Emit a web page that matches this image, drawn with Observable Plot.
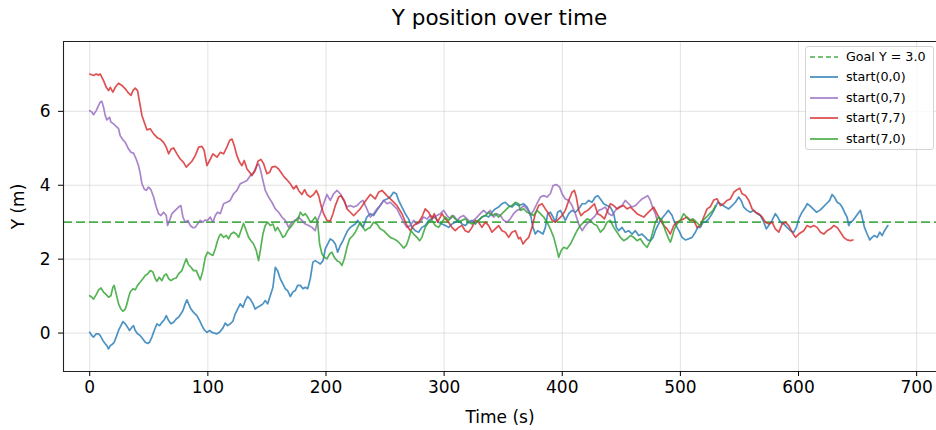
<!DOCTYPE html>
<html><head><meta charset="utf-8">
<script src="https://cdn.jsdelivr.net/npm/d3@7"></script>
<script src="https://cdn.jsdelivr.net/npm/@observablehq/plot@0.6"></script>
<style>
html,body{margin:0;padding:0;background:#fff;}
body{font-family:"DejaVu Sans",sans-serif;color:#000;}
#wrap{position:relative;width:936px;height:430px;overflow:hidden;}
#title{position:absolute;left:63px;width:873px;top:0;height:36px;text-align:center;font-size:21.5px;line-height:36px;}
#chart{position:absolute;left:0;top:36px;}
#legend{position:absolute;left:805px;top:46px;width:127px;height:102px;border:1px solid #d4d4d4;border-radius:3px;background:rgba(255,255,255,0.8);font-size:12.7px;}
.row{position:absolute;left:0;height:20px;line-height:20px;white-space:nowrap;}
.row svg{position:absolute;left:3px;top:0;}
.row span{position:absolute;left:40px;top:0;}
</style>
</head><body>
<div id="wrap"><div id="title">Y position over time</div><div id="chart"></div><div id="legend"></div></div>
<script>
const goalY = 3.0;
const xLimits = [-22.2, 716.8];
const yLimits = [-1.04, 7.89];
const xTicks = [0, 100, 200, 300, 400, 500, 600, 700];
const yTicks = [0, 2, 4, 6];
const seriesNames = ["start(0,0)", "start(0,7)", "start(7,7)", "start(7,0)"];
const seriesColors = ["#1f77b4", "#9467bd", "#d62728", "#2ca02c"];
const goalLabel = "Goal Y = 3.0";
const goalColor = "#2ca02c";

// [time (s), Y (m)]
const start00 = [[0,0.02],[1.8,-0.07],[3.2,-0.11],[5.5,-0.02],[7.5,-0.02],[8.9,-0.07],[11.1,-0.20],[13.1,-0.29],[14.5,-0.34],[15.9,-0.43],[17.4,-0.34],[18.8,-0.31],[20.7,-0.25],[22.4,-0.11],[24.4,0.07],[26.4,0.20],[28.1,0.31],[30.1,0.25],[32.0,0.16],[33.7,0.07],[35.7,0.16],[37.1,0.20],[38.5,0.07],[40.5,-0.02],[42.8,-0.07],[45.0,-0.16],[47.0,-0.25],[49.0,-0.28],[50.6,-0.25],[52.6,-0.11],[54.6,0.07],[56.9,0.25],[59.1,0.20],[61.1,0.29],[63.1,0.36],[64.8,0.47],[66.8,0.34],[68.8,0.25],[71.0,0.29],[73.2,0.38],[75.2,0.43],[77.2,0.52],[78.9,0.61],[80.8,0.79],[82.3,0.90],[83.7,0.79],[85.7,0.65],[87.9,0.56],[90.7,0.47],[93.0,0.34],[95.0,0.20],[96.9,0.09],[99.2,0.02],[101.5,0.07],[103.4,0.02],[105.4,0.00],[107.7,-0.02],[109.9,0.02],[112.8,0.14],[114.7,0.27],[116.7,0.20],[118.9,0.25],[121.2,0.32],[123.2,0.52],[125.2,0.65],[127.4,0.79],[129.7,0.70],[131.7,0.88],[133.6,0.99],[135.9,0.92],[138.2,0.79],[140.1,0.65],[142.1,0.70],[144.4,0.74],[146.6,0.79],[148.6,0.88],[150.6,0.79],[152.8,1.01],[155.1,1.24],[157.1,1.78],[159.0,1.69],[161.3,1.47],[163.5,1.33],[165.5,1.20],[167.5,1.15],[169.8,0.99],[172.0,1.11],[174.0,1.15],[176.0,1.29],[178.3,1.29],[180.5,1.20],[182.5,1.24],[184.5,1.20],[186.7,1.47],[188.9,1.92],[190.9,1.96],[192.9,1.92],[195.2,1.87],[197.5,1.96],[199.4,2.28],[201.4,2.41],[203.6,2.55],[205.9,2.50],[207.9,2.41],[209.9,2.19],[212.1,2.37],[214.4,2.50],[216.3,2.64],[218.3,2.77],[220.6,2.86],[222.8,2.91],[224.8,2.95],[226.8,3.05],[229.0,2.95],[231.3,2.86],[234.6,3.14],[237.5,3.23],[240.3,3.18],[243.1,3.32],[245.9,3.45],[248.8,3.59],[251.6,3.63],[254.4,3.68],[257.2,3.81],[259.5,3.77],[261.5,3.59],[264.3,3.41],[267.1,3.23],[269.9,3.09],[272.8,2.86],[275.6,2.77],[278.4,2.73],[281.2,2.86],[284.0,2.91],[286.9,3.05],[289.7,3.09],[292.5,3.14],[295.3,3.00],[298.2,2.95],[301.0,2.91],[303.8,2.86],[306.6,2.95],[309.4,3.00],[312.3,3.05],[315.1,2.95],[317.9,2.91],[320.7,3.00],[323.6,3.05],[326.4,2.95],[329.2,3.05],[332.0,3.14],[334.9,3.18],[337.7,3.14],[340.5,3.27],[343.3,3.36],[346.1,3.41],[349.0,3.50],[351.8,3.54],[354.6,3.45],[357.4,3.41],[360.3,3.50],[363.1,3.45],[367.4,3.50],[370.2,3.41],[373.0,3.23],[375.2,2.86],[377.2,2.68],[379.2,2.77],[381.5,2.73],[383.7,2.68],[385.7,2.86],[387.7,3.23],[389.9,3.27],[392.2,3.14],[394.2,3.00],[396.1,3.27],[398.4,3.32],[400.7,3.18],[402.6,3.05],[405.5,3.23],[408.3,3.32],[411.1,3.27],[413.9,3.36],[416.8,3.50],[419.6,3.50],[422.4,3.59],[425.2,3.54],[428.0,3.68],[430.0,3.72],[432.3,3.63],[435.1,3.50],[437.9,3.45],[440.7,3.41],[443.6,3.23],[445.8,2.86],[447.8,2.77],[450.6,2.86],[453.4,2.73],[456.2,2.77],[459.1,2.68],[461.9,2.77],[464.7,2.64],[467.5,2.68],[470.4,2.59],[472.3,2.52],[474.6,2.50],[476.9,2.59],[478.8,2.77],[480.8,2.91],[483.1,3.05],[485.3,3.14],[487.6,3.23],[489.8,3.32],[491.0,3.27],[493.0,3.18],[495.0,3.00],[497.2,2.86],[499.4,2.73],[501.4,2.59],[504.2,2.52],[507.1,2.55],[509.9,2.59],[512.7,2.73],[514.7,2.86],[516.9,2.86],[519.2,3.00],[521.2,3.00],[524.0,3.09],[526.8,3.23],[529.7,3.41],[531.6,3.54],[533.9,3.50],[536.1,3.45],[538.1,3.41],[540.9,3.36],[543.8,3.45],[546.6,3.54],[549.4,3.68],[551.4,3.59],[553.6,3.41],[556.5,3.32],[559.3,3.27],[562.1,3.32],[564.9,3.23],[567.8,3.18],[570.6,3.00],[572.8,2.82],[574.8,2.91],[577.6,3.05],[580.4,3.23],[582.4,3.14],[584.7,3.00],[587.5,2.95],[590.3,2.86],[593.2,2.77],[596.0,2.73],[598.2,2.86],[600.2,3.09],[603.0,3.27],[605.9,3.41],[607.3,3.50],[609.5,3.45],[612.3,3.36],[615.2,3.27],[618.0,3.32],[620.8,3.41],[623.6,3.50],[626.4,3.59],[628.4,3.75],[630.4,3.68],[632.7,3.54],[634.9,3.50],[636.9,3.41],[638.9,3.27],[641.1,3.14],[642.5,2.91],[643.9,3.00],[646.2,3.05],[648.2,3.14],[650.2,3.23],[652.4,3.32],[653.8,3.14],[655.8,2.86],[658.1,2.68],[660.3,2.52],[662.3,2.59],[664.3,2.64],[666.6,2.59],[668.8,2.73],[670.8,2.64],[672.8,2.77],[675.6,2.91]];

const start07 = [[0,6.02],[1.8,5.98],[3.2,5.91],[5.5,6.02],[7.5,6.16],[8.9,6.25],[10.3,6.27],[11.7,6.11],[13.1,5.89],[14.5,5.77],[16.8,5.84],[17.9,5.71],[20.2,5.66],[22.4,5.59],[24.4,5.53],[25.8,5.34],[28.1,5.23],[30.1,5.16],[32.9,4.98],[34.9,4.89],[37.1,4.87],[39.3,4.71],[41.3,4.53],[42.8,4.31],[44.2,4.04],[46.1,3.90],[47.8,3.86],[49.8,3.95],[51.8,3.88],[54.1,3.68],[56.3,3.41],[58.3,3.23],[60.3,3.18],[62.5,3.27],[64.8,3.18],[65.9,2.91],[67.6,3.05],[69.6,3.23],[72.4,3.32],[75.2,3.41],[77.2,3.45],[78.9,3.14],[80.8,3.00],[83.1,3.05],[85.1,2.91],[87.4,2.85],[89.3,2.86],[91.3,2.95],[93.6,3.05],[95.8,3.00],[97.8,3.06],[99.8,3.05],[102.0,3.14],[104.3,3.00],[106.3,3.18],[108.2,3.27],[110.5,3.23],[113.3,3.50],[116.1,3.54],[118.9,3.59],[121.8,3.77],[124.6,3.86],[127.4,4.04],[130.2,4.08],[133.1,4.13],[135.9,4.26],[138.7,4.35],[141.5,4.53],[142.9,4.58],[144.4,4.44],[146.6,4.13],[148.6,3.86],[151.4,3.68],[154.2,3.54],[157.1,3.36],[159.9,3.27],[162.7,3.14],[165.5,3.05],[168.4,2.86],[171.2,3.00],[174.0,3.05],[176.8,3.14],[179.6,3.05],[182.5,2.95],[185.3,2.91],[188.1,2.86],[190.9,2.77],[192.9,3.05],[195.2,3.23],[198.0,3.50],[200.8,3.75],[203.6,3.59],[206.5,3.77],[209.3,3.86],[212.1,3.77],[214.9,3.59],[217.8,3.41],[220.6,3.45],[223.4,3.41],[226.2,3.45],[229.0,3.54],[231.3,3.59],[234.6,3.36],[237.5,3.14],[240.3,3.23],[243.1,3.36],[245.9,3.45],[248.8,3.59],[251.6,3.50],[254.4,3.54],[257.2,3.45],[260.1,3.36],[262.9,3.18],[265.7,3.00],[268.5,2.86],[271.4,2.91],[274.2,3.05],[277.0,2.95],[279.8,3.00],[282.6,3.14],[285.5,3.09],[288.3,3.18],[291.1,3.14],[293.9,3.18],[296.8,3.23],[299.6,3.32],[302.4,3.18],[305.2,3.09],[308.0,3.18],[310.9,3.05],[313.7,3.14],[316.5,3.18],[319.3,3.09],[322.2,3.00],[325.0,3.05],[327.8,3.14],[330.6,3.23],[333.4,3.32],[336.3,3.23],[339.1,3.32],[341.9,3.14],[344.7,3.23],[347.6,3.18],[350.4,3.05],[353.2,3.00],[356.0,3.09],[358.8,3.23],[361.7,3.32],[364.5,3.36],[367.4,3.45],[370.2,3.36],[373.0,3.18],[375.8,3.32],[378.6,3.50],[381.5,3.68],[384.3,3.72],[387.1,3.68],[389.9,3.77],[392.2,3.99],[395.0,4.02],[397.8,3.95],[399.8,3.77],[402.6,3.63],[405.5,3.59],[408.3,3.45],[411.1,3.23],[413.9,2.95],[416.8,2.77],[419.6,2.91],[422.4,3.00],[425.2,3.09],[428.0,3.18],[430.9,3.32],[433.7,3.36],[436.5,3.41],[439.3,3.23],[442.1,3.18],[445.0,3.32],[447.8,3.41],[450.6,3.45],[453.4,3.59],[456.2,3.50],[459.1,3.41],[461.9,3.45],[464.7,3.54],[467.5,3.63],[470.4,3.68],[472.3,3.72],[474.6,3.59],[476.9,3.36],[478.8,3.23],[480.8,3.00]];

const start77 = [[0,7.01],[3.2,6.97],[5.5,7.01],[7.5,6.98],[8.9,7.01],[11.7,6.83],[14.0,6.65],[15.9,6.56],[17.4,6.65],[19.6,6.52],[21.6,6.65],[24.4,6.76],[27.2,6.70],[30.1,6.61],[32.9,6.49],[34.9,6.43],[36.6,6.56],[38.5,6.63],[40.5,6.56],[42.2,6.25],[44.2,5.89],[46.1,5.71],[48.4,5.50],[51.2,5.53],[54.1,5.39],[57.4,5.28],[59.7,5.25],[62.5,5.16],[64.8,5.03],[66.8,4.85],[68.8,4.98],[71.0,5.01],[73.8,4.85],[76.6,4.71],[79.4,4.62],[81.7,4.49],[83.7,4.56],[86.5,4.65],[89.3,4.80],[92.2,5.03],[95.0,5.05],[96.9,4.94],[99.2,4.53],[101.5,4.67],[104.3,4.85],[107.7,4.76],[110.5,4.89],[113.3,4.85],[116.1,5.03],[118.4,5.21],[120.4,5.25],[122.4,5.07],[124.6,4.80],[126.9,4.62],[128.8,4.53],[130.8,4.67],[133.1,4.44],[135.3,4.35],[137.3,4.26],[140.1,4.40],[142.4,4.65],[144.9,4.70],[147.2,4.58],[150.0,4.31],[152.3,4.35],[154.2,4.49],[157.1,4.51],[159.9,4.44],[162.7,4.31],[164.7,4.22],[166.9,4.15],[169.8,4.04],[172.6,3.90],[174.9,3.99],[176.8,3.86],[179.6,3.75],[181.9,3.88],[183.9,3.75],[186.7,3.68],[189.5,3.75],[191.8,3.86],[193.8,3.72],[195.8,3.45],[198.0,3.23],[200.8,3.05],[203.6,3.03],[205.9,3.23],[207.9,3.45],[210.7,3.68],[212.7,3.72],[215.5,3.59],[217.8,3.36],[220.6,3.27],[223.4,3.18],[226.2,3.27],[229.0,3.36],[231.8,3.50],[234.7,3.63],[237.5,3.75],[241.7,3.63],[244.5,3.81],[247.4,3.86],[251.6,3.72],[255.8,3.59],[260.1,3.45],[264.3,3.23],[268.5,2.91],[271.4,2.77],[274.2,2.91],[278.4,3.00],[281.2,3.14],[284.0,3.36],[286.9,3.27],[289.7,3.09],[291.7,3.23],[294.5,3.00],[298.2,3.23],[301.0,3.09],[303.8,3.00],[306.6,2.86],[309.4,2.77],[312.3,2.86],[315.1,2.91],[317.9,2.77],[320.7,2.73],[323.6,2.86],[326.4,3.05],[329.2,3.00],[332.0,2.86],[334.9,3.00],[337.7,2.91],[340.5,2.73],[343.3,2.82],[346.1,2.91],[349.0,2.77],[351.8,2.73],[354.6,2.59],[357.4,2.73],[360.3,2.77],[363.1,2.55],[364.5,2.59],[366.8,2.41],[368.8,2.50],[371.6,2.59],[374.4,2.86],[377.2,3.23],[380.1,3.45],[382.9,3.50],[385.7,3.36],[388.5,3.23],[391.4,3.05],[394.2,3.00],[397.0,3.09],[399.8,3.18],[402.6,3.32],[405.5,3.59],[408.3,3.81],[410.3,3.86],[411.9,3.68],[413.9,3.32],[415.9,3.18],[418.7,3.27],[421.5,3.32],[424.4,3.41],[427.2,3.50],[430.0,3.23],[432.8,3.18],[435.7,3.09],[438.5,3.32],[440.7,3.50],[443.6,3.45],[446.4,3.36],[449.2,3.41],[452.0,3.45],[454.8,3.36],[457.7,3.41],[460.5,3.32],[463.3,3.23],[466.1,3.18],[469.0,3.14],[471.8,3.23],[474.6,3.32],[477.4,3.41],[480.2,3.23],[483.1,3.05],[485.9,2.91],[488.7,2.82],[491.5,2.68],[494.4,2.91],[497.2,3.00],[500.0,3.05],[502.8,3.09],[505.6,3.14],[508.5,3.05],[511.3,3.05],[514.1,2.86],[516.9,2.91],[519.8,3.14],[522.6,3.36],[525.4,3.42],[528.2,3.60],[531.1,3.63],[533.9,3.45],[536.7,3.50],[539.5,3.59],[542.3,3.63],[545.2,3.81],[548.0,3.88],[550.3,3.92],[552.2,3.77],[555.1,3.72],[557.9,3.59],[560.7,3.36],[563.5,3.27],[566.3,3.23],[569.2,3.14],[572.0,3.00],[574.8,2.95],[577.6,3.00],[580.4,2.82],[583.3,2.73],[586.1,2.95],[588.9,3.00],[591.7,2.91],[594.6,2.73],[597.4,2.59],[600.2,2.68],[604.4,2.77],[607.3,2.91],[610.1,2.86],[612.9,2.91],[615.7,2.86],[618.6,2.73],[621.4,2.68],[624.2,2.77],[627.0,2.82],[629.8,2.91],[632.7,2.86],[635.5,2.73],[638.3,2.59],[641.1,2.52],[644.0,2.50],[646.0,2.52]];

const start70 = [[0,1.01],[1.8,0.97],[3.2,0.92],[5.5,1.04],[7.5,1.17],[9.5,1.22],[11.7,1.11],[14.0,1.04],[15.9,0.97],[17.9,1.01],[19.6,1.24],[20.7,1.29],[22.4,1.06],[24.4,0.79],[26.4,0.65],[28.1,0.59],[30.1,0.65],[31.5,0.79],[32.9,0.97],[34.3,1.11],[36.6,1.20],[38.5,1.17],[40.5,1.29],[42.8,1.38],[45.0,1.47],[47.0,1.56],[49.0,1.60],[51.2,1.69],[53.5,1.65],[55.5,1.47],[56.9,1.40],[58.8,1.51],[61.1,1.42],[63.1,1.56],[64.8,1.60],[66.8,1.47],[68.8,1.42],[71.0,1.47],[73.2,1.49],[75.2,1.60],[78.0,1.69],[80.0,1.87],[81.7,2.01],[83.7,1.85],[85.7,1.78],[87.9,1.69],[90.2,1.69],[91.9,1.56],[93.6,1.44],[95.8,1.69],[97.8,2.05],[99.8,2.19],[102.0,2.14],[104.3,2.10],[106.3,2.28],[108.2,2.50],[109.9,2.64],[111.0,2.68],[113.3,2.59],[115.6,2.64],[117.5,2.55],[119.5,2.68],[121.8,2.73],[124.1,2.68],[126.0,2.59],[128.0,2.77],[130.2,2.97],[132.5,2.77],[134.5,2.59],[136.5,2.50],[138.7,2.41],[141.0,2.23],[142.9,1.96],[144.4,2.23],[146.6,2.68],[148.6,2.91],[150.6,3.00],[152.8,2.91],[155.1,2.95],[157.1,2.77],[159.0,2.86],[161.3,2.73],[163.5,2.59],[165.5,2.64],[167.5,2.77],[169.8,2.86],[172.0,2.95],[174.0,3.05],[176.0,3.05],[178.3,3.27],[180.5,3.18],[182.5,3.23],[184.5,3.14],[186.7,3.00],[188.9,3.05],[190.9,3.14],[192.9,3.00],[194.6,2.41],[196.6,2.14],[198.6,2.05],[200.8,2.01],[203.1,2.14],[205.0,2.19],[207.0,2.05],[209.3,1.96],[211.5,1.92],[213.5,1.83],[215.5,2.01],[217.8,2.32],[220.0,2.55],[222.8,2.64],[224.8,2.73],[226.8,2.86],[229.0,3.00],[231.3,2.86],[233.2,2.77],[235.2,2.82],[237.5,2.86],[240.3,3.00],[243.1,2.95],[245.9,2.82],[248.8,2.77],[251.6,2.68],[254.4,2.59],[257.2,2.55],[260.1,2.50],[262.9,2.41],[265.7,2.30],[268.0,2.37],[270.0,2.55],[272.0,2.77],[274.2,2.68],[277.0,2.59],[279.3,2.50],[281.2,2.59],[284.0,2.86],[286.9,3.00],[289.7,3.05],[292.5,2.91],[295.3,2.86],[298.2,3.00],[301.0,3.14],[303.8,3.05],[306.6,3.18],[309.4,3.09],[312.3,3.00],[315.1,3.05],[317.9,3.09],[320.7,3.00],[323.6,2.95],[326.4,3.00],[329.2,3.05],[332.0,3.14],[334.9,3.18],[337.7,3.27],[340.5,3.18],[343.3,3.23],[346.1,3.14],[349.0,3.23],[351.8,3.32],[354.6,3.41],[357.4,3.45],[360.3,3.54],[363.1,3.50],[364.5,3.32],[367.4,3.36],[370.2,3.27],[373.0,3.23],[375.8,3.18],[378.6,3.32],[381.5,3.23],[384.3,3.14],[387.1,3.00],[389.9,2.82],[392.8,2.59],[395.0,2.32],[397.0,2.05],[399.0,2.23],[401.2,2.32],[404.0,2.28],[406.9,2.41],[409.7,2.59],[412.5,2.77],[415.3,2.91],[418.2,3.00],[421.0,3.09],[423.8,3.05],[426.6,2.95],[429.4,2.91],[432.3,2.73],[435.1,2.82],[437.9,3.00],[440.7,3.05],[443.6,2.86],[446.4,2.73],[449.2,2.59],[452.0,2.50],[454.8,2.55],[457.7,2.64],[460.5,2.59],[463.3,2.50],[466.1,2.55],[469.0,2.41],[471.8,2.32],[474.6,2.50],[476.9,2.77],[478.8,3.00],[481.6,3.14],[484.5,3.05],[487.3,2.77],[490.1,2.55],[491.5,2.46],[492.9,2.59],[494.9,2.82],[497.2,2.95],[500.0,3.05],[502.8,3.23],[505.1,3.14],[507.9,3.05],[510.7,3.09],[513.6,3.00],[516.4,2.91],[519.2,3.05],[522.0,3.14],[524.8,3.23],[527.7,3.32],[529.7,3.45]];

const seriesData = [start00, start07, start77, start70];

const lineStyle = {strokeOpacity: 0.8, strokeWidth: 1.7};
const lineMarks = seriesData.map((s, i) =>
  Plot.line(s, {x: d => d[0], y: d => d[1], stroke: seriesColors[i], ...lineStyle})
);

const chart = Plot.plot({
  width: 936,
  height: 394,
  marginLeft: 63,
  marginRight: 0,
  marginTop: 5,
  marginBottom: 59,
  style: {fontFamily: '"DejaVu Sans", sans-serif', fontSize: "17px", color: "#000", background: "transparent"},
  x: {domain: xLimits},
  y: {domain: yLimits},
  marks: [
    Plot.gridX(xTicks, {stroke: "#b0b0b0", strokeOpacity: 0.35, strokeWidth: 1}),
    Plot.gridY(yTicks, {stroke: "#b0b0b0", strokeOpacity: 0.35, strokeWidth: 1}),
    Plot.ruleY([goalY], {stroke: goalColor, strokeOpacity: 0.85, strokeWidth: 1.8, strokeDasharray: "9,4"}),
    ...lineMarks,
    Plot.ruleX([xLimits[0]], {stroke: "#222", strokeWidth: 1.1}),
    Plot.ruleY(yLimits, {stroke: "#222", strokeWidth: 1.1}),
    Plot.axisX(xTicks, {tickSize: 5, tickPadding: 4, fontSize: 17, label: "Time (s)", labelAnchor: "center", labelArrow: "none", labelOffset: 51}),
    Plot.axisY(yTicks, {tickSize: 5, tickPadding: 8, fontSize: 17, label: "Y (m)", labelAnchor: "center", labelArrow: "none", labelOffset: 52})
  ]
});
document.getElementById("chart").appendChild(chart);

// legend
const legendItems = [{label: goalLabel, color: goalColor, dash: "5,3"}].concat(
  seriesNames.map((n, i) => ({label: n, color: seriesColors[i], dash: null}))
);
const legendRowTops = [0, 1, 2, 3, 4].map(i => 0 + i * 20.4);
const legend = document.getElementById("legend");
legendItems.forEach((it, i) => {
  const row = document.createElement("div");
  row.className = "row";
  row.style.top = legendRowTops[i] + "px";
  row.innerHTML = `<svg width="30" height="20"><line x1="1" x2="29" y1="10" y2="10" stroke="${it.color}" stroke-opacity="0.85" stroke-width="1.7" ${it.dash ? `stroke-dasharray="${it.dash}"` : ""}/></svg><span>${it.label}</span>`;
  legend.appendChild(row);
});
</script>
</body></html>
